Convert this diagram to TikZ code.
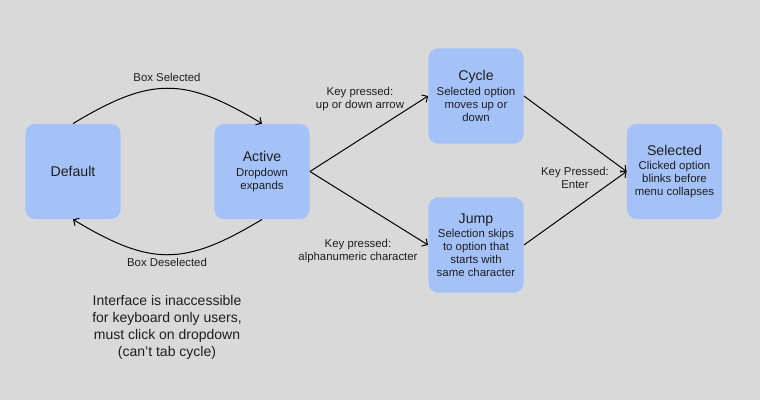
\documentclass[tikz,border=0pt]{standalone}
\usepackage{fontspec}
\setmainfont{Liberation Sans}
\usetikzlibrary{arrows.meta}
\definecolor{bg}{HTML}{D9D9D9}
\definecolor{boxfill}{HTML}{A4C2F8}
\definecolor{ink}{HTML}{1E1E1E}
\newcommand{\ttlfont}{\fontsize{10.6}{12.5}\selectfont}
\newcommand{\subfont}{\fontsize{8.55}{9.75}\selectfont}
\tikzset{
  statebox/.style={fill=boxfill, draw=none, rounded corners=7.5pt,
    minimum width=71.5pt, minimum height=71.5pt, inner sep=0pt,
    align=center, text=ink, font=\subfont},
  lbl/.style={text=ink, font=\subfont, align=center, inner sep=0pt},
  conn/.style={draw=black, line width=0.75pt, -{Straight Barb[length=3.2pt,width=6.5pt]}}
}
\begin{document}
\begin{tikzpicture}[x=0.75pt, y=-0.75pt]
\fill[bg] (0,0) rectangle (760,400);
\useasboundingbox (0,0) rectangle (760,400);

\node[statebox] (default) at (73,171.5) {\ttlfont Default};
\node[statebox] (active) at (262,171.5) {{\ttlfont Active}\\[1pt]Dropdown\\expands};
\node[statebox] (cycle) at (476,96) {{\ttlfont Cycle}\\[1pt]Selected option\\moves up or\\down};
\node[statebox] (jump) at (476,245) {{\ttlfont Jump}\\[1pt]Selection skips\\to option that\\starts with\\same character};
\node[statebox] (selected) at (674.5,171.5) {{\ttlfont Selected}\\[1pt]Clicked option\\blinks before\\menu collapses};

\draw[conn] (default.north) .. controls +(78,-47) and +(-78,-47) .. (active.north);
\draw[conn] (active.south) .. controls +(-78,47) and +(78,47) .. (default.south);
\draw[conn] (active.east) -- (cycle.west);
\draw[conn] (active.east) -- (jump.west);
\draw[conn] (cycle.east) -- (selected.west);
\draw[conn] (jump.east) -- (selected.west);

\node[lbl] (lsel) at (167,77) {Box Selected};
\node[lbl] (ldesel) at (167,262) {Box Deselected};
\node[lbl] (lup) at (360,99) {Key pressed:\\up or down arrow};
\node[lbl] (lalpha) at (358,251) {Key pressed:\\alphanumeric character};
\node[lbl] (lenter) at (575,178) {Key Pressed:\\Enter};

\node[text=ink, font=\fontsize{10.5}{12.75}\selectfont, align=center, inner sep=0pt] (note) at (167,327.5)
  {Interface is inaccessible\\for keyboard only users,\\must click on dropdown\\(can’t tab cycle)};
\end{tikzpicture}
\end{document}
